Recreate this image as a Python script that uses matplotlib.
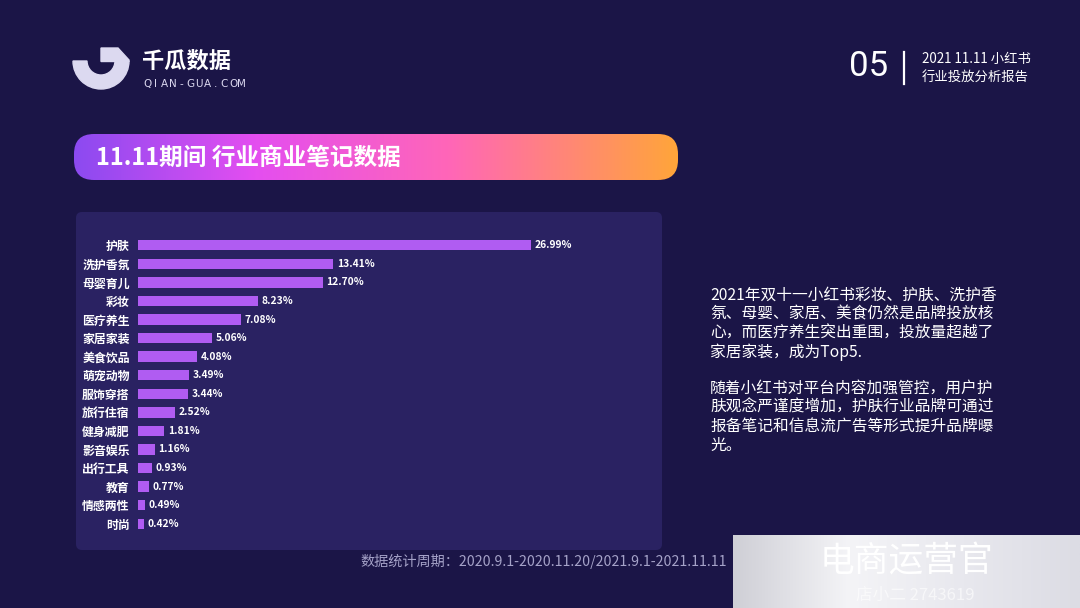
import matplotlib
matplotlib.use('Agg')
import matplotlib.pyplot as plt
import numpy as np
from matplotlib.patches import FancyBboxPatch, Wedge, Polygon, Rectangle
from matplotlib.colors import LinearSegmentedColormap

plt.rcParams['font.family'] = ['Noto Sans CJK SC', 'DejaVu Sans']

# data
categories = ['护肤', '洗护香氛', '母婴育儿', '彩妆', '医疗养生', '家居家装', '美食饮品', '萌宠动物',
              '服饰穿搭', '旅行住宿', '健身减肥', '影音娱乐', '出行工具', '教育', '情感两性', '时尚']
shares = [26.99, 13.41, 12.70, 8.23, 7.08, 5.06, 4.08, 3.49,
          3.44, 2.52, 1.81, 1.16, 0.93, 0.77, 0.49, 0.42]

title = '11.11期间 行业商业笔记数据'
page_no = '05'
report_lines = ['2021 11.11 小红书', '行业投放分析报告']
para1 = ['2021年双十一小红书彩妆、护肤、洗护香', '氛、母婴、家居、美食仍然是品牌投放核',
         '心，而医疗养生突出重围，投放量超越了', '家居家装，成为Top5.']
para2 = ['随着小红书对平台内容加强管控，用户护', '肤观念严谨度增加，护肤行业品牌可通过',
         '报备笔记和信息流广告等形式提升品牌曝', '光。']
footnote = '数据统计周期：2020.9.1-2020.11.20/2021.9.1-2021.11.11'

BG = '#1b1547'
PANEL = '#2a2262'
BAR = '#b05cf2'
LOGO = '#dcd9f0'

W, H = 1080, 608
fig = plt.figure(figsize=(W / 100, H / 100), dpi=100)
fig.patch.set_facecolor(BG)

# background layer in pixel coordinates
bg = fig.add_axes([0, 0, 1, 1])
bg.set_xlim(0, W)
bg.set_ylim(H, 0)
bg.axis('off')

# logo
bg.add_patch(Wedge((101, 61), 28, 0, 180, width=14, color=LOGO))
bg.add_patch(Polygon([[101, 48], [118, 48], [129, 60], [129, 61.5], [101, 61.5]], closed=True, color=LOGO))
bg.text(142, 61, '千瓜数据', color='white', fontsize=16, fontweight='bold', va='center', ha='left')
for i, ch in enumerate('QIAN-GUA.COM'):
    bg.text(147 + i * 8.6, 84, ch, color=LOGO, fontsize=7.5, va='center', ha='center',
            family=['DejaVu Sans'])

# top right
bg.text(869, 67, page_no, color='white', fontsize=25, va='center', ha='center',
        family=['Roboto'])
bg.plot([904, 904], [52, 84], color='white', lw=1.6)
bg.text(922, 59, report_lines[0], color='white', fontsize=9.6, va='center', ha='left')
bg.text(922, 77, report_lines[1], color='white', fontsize=9.6, va='center', ha='left')

# title banner with gradient
banner = FancyBboxPatch((74, 134), 604, 46, boxstyle='round,pad=0,rounding_size=20',
                        facecolor='none', edgecolor='none')
bg.add_patch(banner)
cmap = LinearSegmentedColormap.from_list('banner', [(0, '#8c4af0'), (0.3, '#e44ef0'),
                                                   (0.62, '#ff66b8'), (1, '#ffa53a')])
grad = np.linspace(0, 1, 256).reshape(1, -1)
im = bg.imshow(grad, cmap=cmap, extent=(74, 678, 180, 134), aspect='auto', zorder=1)
im.set_clip_path(banner)
bg.text(96, 158, title, color='white', fontsize=17, fontweight='bold', va='center', ha='left', zorder=3)

# chart panel
bg.add_patch(FancyBboxPatch((76, 212), 586, 338, boxstyle='round,pad=0,rounding_size=6',
                            facecolor=PANEL, edgecolor='none', zorder=1))

# right text
for i, line in enumerate(para1):
    bg.text(710, 295 + i * 19, line, color='white', fontsize=11.3, va='center', ha='left')
for i, line in enumerate(para2):
    bg.text(710, 388 + i * 19, line, color='white', fontsize=11.3, va='center', ha='left')

# footnote
bg.text(360, 561, footnote, color='#a5a2c8', fontsize=10.2, va='center', ha='left',
        family=['Liberation Sans Narrow', 'Noto Sans CJK SC'])

# bottom-right overlay stamp
stamp = Rectangle((733, 535), 347, 73, facecolor='none', edgecolor='none')
bg.add_patch(stamp)
scmap = LinearSegmentedColormap.from_list('stamp', ['#cfcfd6', '#f4f4f7', '#e8e8ee', '#dcdce4'])
sim = bg.imshow(grad, cmap=scmap, extent=(733, 1080, 608, 535), aspect='auto', zorder=2)
sim.set_clip_path(stamp)
bg.text(906, 562, '电商运营官', color='white', fontsize=25, va='center', ha='center', zorder=3)
bg.text(915, 595, '店小二 2743619', color='white', alpha=0.6, fontsize=12, va='center',
        ha='center', style='italic', zorder=3)

# bar chart
left_px, right_px = 138, 660
top_px, bottom_px = 236, 533
ax = fig.add_axes([left_px / W, 1 - bottom_px / H, (right_px - left_px) / W, (bottom_px - top_px) / H])
ax.set_facecolor('none')
y = np.arange(len(categories))
ax.barh(y, shares, height=0.56, color=BAR)
ax.set_xlim(0, (right_px - left_px) / 14.56)
ax.set_ylim(len(categories) - 0.5, -0.5)
ax.set_yticks(y)
ax.set_yticklabels(categories, color='white', fontsize=8.6, fontweight='bold')
ax.tick_params(axis='y', length=0, pad=6)
ax.set_xticks([])
for s in ax.spines.values():
    s.set_visible(False)
for yi, v in zip(y, shares):
    ax.text(v + 0.25, yi, f'{v:.2f}%', color='white', fontsize=7.4, fontweight='bold',
            va='center', ha='left')

fig.savefig('out.png', dpi=100, facecolor=BG)
